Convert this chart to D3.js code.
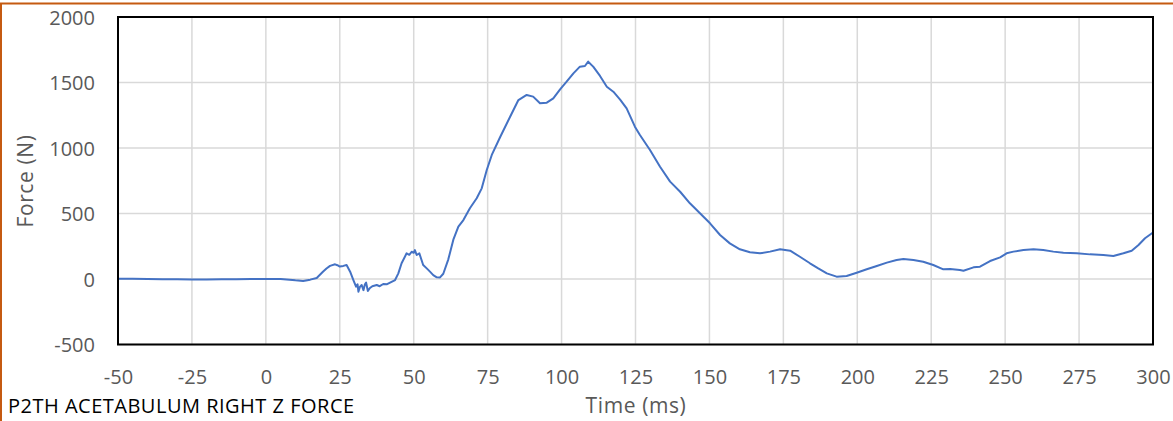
<!DOCTYPE html>
<html>
<head>
<meta charset="utf-8">
<script src="https://cdn.jsdelivr.net/npm/d3@7"></script>
<style>
  html, body { margin: 0; padding: 0; background: #fff; }
  svg { display: block; }
  text { font-family: "Open Sans", "Liberation Sans", sans-serif; }
</style>
</head>
<body>
<svg id="chart" width="1173" height="421"></svg>
<script>
// ---- data ----
const timeMs = [
  -50, -45, -40, -35, -30, -25, -20, -15, -10, -5, 0, 5, 8, 10, 12.6, 15, 17.2,
  19.3, 20.5, 21.7, 23.4, 24.2, 25, 26.2, 27.3, 28.5, 29.6, 30.5, 31.0, 31.3, 31.8,
  32.4, 33.0, 33.5, 33.9, 34.5, 35.2, 36.0, 37.5, 38.5, 39.7, 41.0, 42, 43.7,
  44.8, 45.9, 47.6, 48.5, 49.3, 50.0, 50.4, 51, 51.9, 53.2, 54.4, 55.5, 56.6,
  57.8, 58.9, 60, 61.7, 63.4, 65.1, 66.8, 69, 71.3, 73, 74.7, 76.4, 79.2,
  82.6, 85.4, 88.2, 90.4, 92.7, 95, 97.2, 99.5, 101.7, 104, 106.2, 107.9,
  109, 110.7, 113, 115.3, 117.5, 119.8, 122, 124.8, 126.5, 129.9, 133.3,
  136.7, 140.1, 143.4, 146.8, 150.2, 153.6, 156.9, 160.3, 163.7, 167.1,
  170.5, 173.9, 177.3, 180.6, 184, 186.8, 189.7, 193, 196.4, 199.8, 203.2,
  206.6, 210, 213.3, 215.6, 219, 222.3, 225.7, 229.1, 231.4, 234.7, 235.9,
  239.3, 241.5, 244.9, 248.3, 250.5, 252.8, 256.2, 259.6, 262.9, 266.3,
  269.7, 274.2, 278.7, 283.2, 286.6, 290, 292.8, 295.1, 297.3, 300
];
const forceN = [
  2, 1, 0, -1, -2, -3, -3, -2, -1, 0, 0, 0, -5, -10, -15, -5, 8,
  55, 80, 100, 112, 105, 95, 100, 107, 56, -8, -58, -40, -97, -60,
  -46, -85, -40, -28, -91, -69, -55, -46, -55, -38, -40, -28, -8,
  43, 120, 196, 185, 208, 200, 221, 183, 196, 107, 81, 56, 30,
  13, 12, 40, 150, 300, 400, 450, 540, 616, 692, 832, 947, 1082,
  1239, 1366, 1405, 1392, 1341, 1346, 1379, 1448, 1506, 1570, 1621, 1626,
  1659, 1621, 1550, 1468, 1430, 1370, 1303, 1163, 1099, 985, 857,
  743, 666, 578, 502, 425, 336, 272, 227, 204, 196,
  209, 227, 216, 170, 120, 81, 43, 18, 23, 48, 74,
  99, 125, 145, 153, 145, 132, 107, 74, 76, 69, 63,
  89, 94, 137, 165, 196, 209, 221, 227, 221, 209,
  201, 196, 188, 183, 176, 196, 216, 260, 311, 355
];
const xTicks = [-50, -25, 0, 25, 50, 75, 100, 125, 150, 175, 200, 225, 250, 275, 300];
const yTicks = [-500, 0, 500, 1000, 1500, 2000];
const chartTitle = "P2TH ACETABULUM RIGHT Z FORCE";
const xLabel = "Time (ms)";
const yLabel = "Force (N)";

// ---- layout ----
const svg = d3.select("#chart");
const plot = { left: 118, right: 1153, top: 17, bottom: 344.5 };

const x = d3.scaleLinear().domain([-50, 300]).range([plot.left, plot.right]);
const y = d3.scaleLinear().domain([-500, 2000]).range([plot.bottom, plot.top]);

// outer orange frame (cropped at right/bottom)
svg.append("rect")
  .attr("x", 1).attr("y", 3.5)
  .attr("width", 1300).attr("height", 600)
  .attr("fill", "none")
  .attr("stroke", "#C55A11")
  .attr("stroke-width", 2);

// gridlines
const grid = svg.append("g");
grid.selectAll(".vg").data(xTicks).join("line")
  .attr("x1", d => x(d)).attr("x2", d => x(d))
  .attr("y1", plot.top).attr("y2", plot.bottom)
  .attr("stroke", "#D9D9D9").attr("stroke-width", 1.5);
grid.selectAll(".hg").data(yTicks).join("line")
  .attr("y1", d => y(d)).attr("y2", d => y(d))
  .attr("x1", plot.left).attr("x2", plot.right)
  .attr("stroke", "#D9D9D9").attr("stroke-width", 1.5);

// data line
const line = d3.line().x((d, i) => x(timeMs[i])).y(d => y(d));
svg.append("path")
  .datum(forceN)
  .attr("d", line)
  .attr("fill", "none")
  .attr("stroke", "#4472C4")
  .attr("stroke-width", 2)
  .attr("stroke-linejoin", "round");

// plot border
svg.append("rect")
  .attr("x", plot.left).attr("y", plot.top)
  .attr("width", plot.right - plot.left).attr("height", plot.bottom - plot.top)
  .attr("fill", "none").attr("stroke", "#000").attr("stroke-width", 2);

// axes (labels only, plain hyphen minus)
const fmt = d => String(d);
const xAxis = svg.append("g")
  .attr("transform", `translate(0,${plot.bottom})`)
  .call(d3.axisBottom(x).tickValues(xTicks).tickSize(0).tickPadding(0).tickFormat(fmt));
xAxis.select(".domain").remove();
xAxis.selectAll("text")
  .attr("y", 39).attr("dy", null)
  .attr("fill", "#595959")
  .style("font-size", "20px")
  .style("font-family", "'Open Sans', sans-serif");

const yAxis = svg.append("g")
  .attr("transform", `translate(95,0)`)
  .call(d3.axisLeft(y).tickValues(yTicks).tickSize(0).tickPadding(0).tickFormat(fmt));
yAxis.select(".domain").remove();
yAxis.selectAll("text")
  .attr("x", 0).attr("dy", "0.35em")
  .attr("fill", "#595959")
  .style("font-size", "20px")
  .style("font-family", "'Open Sans', sans-serif");

// axis titles
svg.append("text")
  .attr("x", 636).attr("y", 413)
  .attr("text-anchor", "middle")
  .attr("fill", "#595959")
  .style("font-size", "21px")
  .style("letter-spacing", "0.6px")
  .text(xLabel);

svg.append("text")
  .attr("transform", "translate(33,181) rotate(-90)")
  .attr("text-anchor", "middle")
  .attr("fill", "#595959")
  .style("font-size", "21px")
  .style("letter-spacing", "0.6px")
  .text(yLabel);

// chart title at bottom-left
svg.append("text")
  .attr("x", 8).attr("y", 413)
  .attr("fill", "#000")
  .style("font-size", "20px")
  .style("letter-spacing", "0.5px")
  .text(chartTitle);
</script>
</body>
</html>
